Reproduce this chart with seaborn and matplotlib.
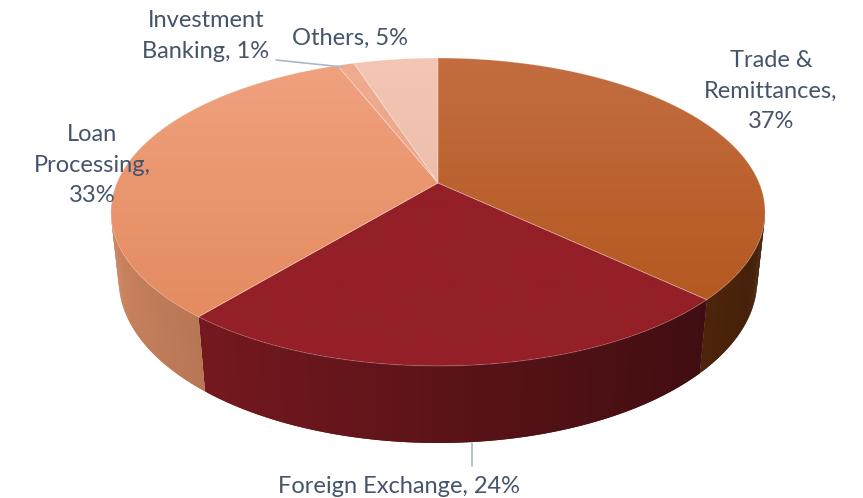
import numpy as np
import seaborn as sns
import matplotlib.pyplot as plt
from matplotlib.patches import Polygon
from matplotlib.colors import to_rgb

# data, clockwise from 12 o'clock
names = ["Trade &\nRemittances", "Foreign Exchange", "Loan\nProcessing", "Investment\nBanking", "Others"]
shares = [37, 24, 33, 1, 5]
seps = ["\n", " ", "\n", " ", " "]

top_hi = ["#C36D40", "#941F27", "#F0A27F", "#F0AC8E", "#F4C6B3"]
top_lo = ["#B15318", "#941F27", "#E2865A", "#E8A085", "#E2B2A4"]
side_base = ["#B45419", "#941F27", "#E9966C", "#EBA283", "#F0BCA8"]

sns.set_theme(style="white")
plt.rcParams["font.family"] = ["Lato", "DejaVu Sans"]

W, H = 863, 498
fig = plt.figure(figsize=(W / 100, H / 100), dpi=100)
ax = fig.add_axes([0, 0, 1, 1])

# simple perspective camera for the 3d pie
CX, CY = 438, 183
F = 321.2
SIN_A, COS_A = 0.4623, 0.887
DIST = 4.71
THICK = 0.241


def proj(theta, z=0.0):
    u, v = np.cos(theta), np.sin(theta)
    d = 1 + (COS_A * v - SIN_A * z) / DIST
    return CX + F * u / d, CY - F * (v * SIN_A + z * COS_A) / d


def shade(c, theta):
    k = np.clip(0.62 - 0.26 * np.cos(theta), 0, 1)
    return tuple(np.array(to_rgb(c)) * k)


def grad_fill(poly, c1, c2, z):
    patch = Polygon(poly, closed=True, facecolor="none", edgecolor="none")
    ax.add_patch(patch)
    t = np.linspace(0, 1, 256)[:, None, None]
    img = (1 - t) * np.array(to_rgb(c1)) + t * np.array(to_rgb(c2))
    im = ax.imshow(img, extent=(90, 790, 370, 55), aspect="auto",
                   interpolation="bilinear", zorder=z)
    im.set_clip_path(patch)


cum = np.concatenate([[0], np.cumsum(shares)]) / sum(shares)
starts = np.pi / 2 - 2 * np.pi * cum[:-1]
ends = np.pi / 2 - 2 * np.pi * cum[1:]

# visible front side of the cylinder
vis_lo, vis_hi = np.radians(-169.2), np.radians(-10.8)

for i in range(len(shares)):
    for off in (0, -2 * np.pi):
        a0, a1 = starts[i] + off, ends[i] + off
        lo, hi = max(a1, vis_lo), min(a0, vis_hi)
        if hi <= lo:
            continue
        n = max(2, int(np.degrees(hi - lo) / 0.5))
        th = np.linspace(lo, hi, n + 1)
        for j in range(n):
            ta, tb = th[j], th[min(j + 2, n)]
            pts = [proj(ta), proj(tb), proj(tb, -THICK), proj(ta, -THICK)]
            col = shade(side_base[i], 0.5 * (th[j] + th[j + 1]))
            ax.add_patch(Polygon(pts, closed=True, facecolor=col,
                                 edgecolor="none", zorder=2))

# top faces
for i in range(len(shares)):
    th = np.linspace(starts[i], ends[i], max(3, int(abs(np.degrees(ends[i] - starts[i]))) * 2))
    poly = [(CX, CY)] + [proj(t) for t in th]
    grad_fill(poly, top_hi[i], top_lo[i], 3 + i * 0.01)
    ax.add_patch(Polygon(poly, closed=True, facecolor="none",
                         edgecolor=(1, 1, 1, 0.25), lw=0.6, zorder=4))

# labels
label_pos = [(771, 91), (399, 486), (92, 165), (206, 36), (350, 38)]
for i in range(len(shares)):
    ax.text(*label_pos[i], f"{names[i]},{seps[i]}{shares[i]}%", ha="center", va="center",
            fontsize=17, color="#44546A", linespacing=1.55, zorder=6)

ax.plot([472, 472], [443, 466], color="#A9B8CB", lw=1.2, zorder=5)
ax.plot([276, 343], [60, 67], color="#A9B8CB", lw=1.2, zorder=5)

ax.set_xlim(0, W)
ax.set_ylim(H, 0)
ax.axis("off")
fig.savefig("out.png", dpi=100)
